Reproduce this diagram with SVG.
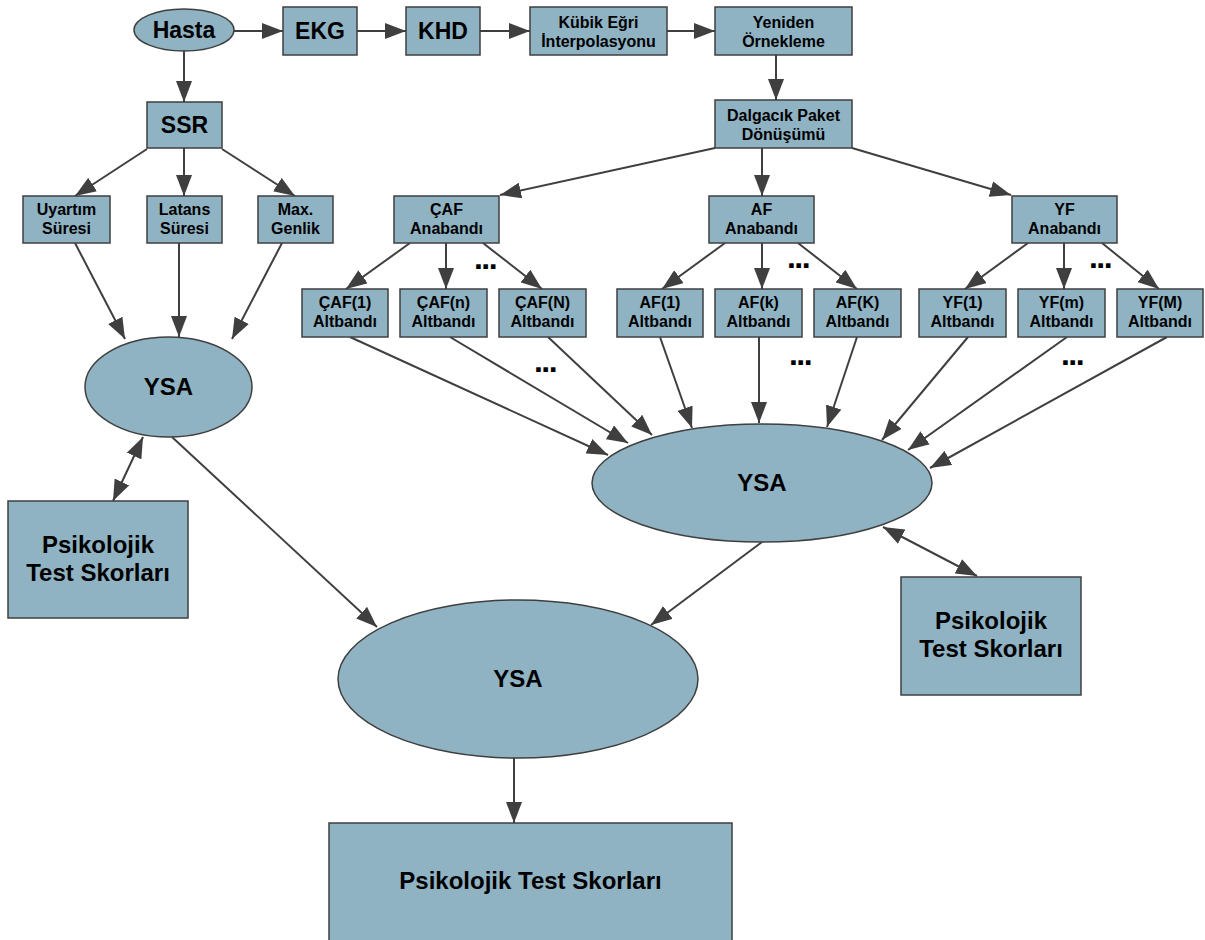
<svg xmlns="http://www.w3.org/2000/svg" width="1205" height="940" viewBox="0 0 1205 940">
<style>
.n{fill:#8fb3c3;stroke:#3f3f3f;stroke-width:1.5}
.t{font-family:"Liberation Sans",Arial,sans-serif;font-weight:bold;fill:#000;text-anchor:middle}
.s16{font-size:16px}
.s23{font-size:23px}
.s24{font-size:24px}
.c{stroke:#3f3f3f;stroke-width:2;fill:none;marker-end:url(#ah)}
.b{marker-start:url(#ah)}
.d{font-family:"Liberation Sans",Arial,sans-serif;font-weight:bold;font-size:32px;letter-spacing:-1.5px;text-anchor:middle}
</style>
<defs>
<marker id="ah" markerUnits="userSpaceOnUse" markerWidth="21" markerHeight="16" refX="21" refY="8" orient="auto-start-reverse">
<path d="M0,0 L21,8 L0,16 z" fill="#3f3f3f"/>
</marker>
</defs>
<rect width="1205" height="940" fill="#fff"/>
<g id="connectors">
<line class="c" x1="234" y1="31" x2="283" y2="31"/>
<line class="c" x1="357" y1="31" x2="406" y2="31"/>
<line class="c" x1="480" y1="31" x2="530" y2="31"/>
<line class="c" x1="667" y1="31" x2="715" y2="31"/>
<line class="c" x1="776" y1="55" x2="776" y2="100"/>
<line class="c" x1="184" y1="51" x2="184" y2="102"/>
<line class="c" x1="147" y1="149" x2="75" y2="196"/>
<line class="c" x1="184" y1="148" x2="184" y2="196"/>
<line class="c" x1="222" y1="149" x2="295" y2="196"/>
<line class="c" x1="75" y1="243" x2="125" y2="339"/>
<line class="c" x1="179" y1="243" x2="179" y2="337"/>
<line class="c" x1="282" y1="243" x2="232" y2="339"/>
<line class="c b" x1="113" y1="501" x2="143" y2="437"/>
<line class="c" x1="172" y1="437" x2="377" y2="627"/>
<line class="c" x1="715" y1="148" x2="500" y2="195"/>
<line class="c" x1="762" y1="148" x2="762" y2="196"/>
<line class="c" x1="852" y1="148" x2="1011" y2="195"/>
<line class="c" x1="410" y1="243" x2="346" y2="289"/>
<line class="c" x1="446" y1="243" x2="446" y2="289"/>
<line class="c" x1="483" y1="243" x2="542" y2="289"/>
<line class="c" x1="725" y1="243" x2="662" y2="289"/>
<line class="c" x1="762" y1="243" x2="762" y2="289"/>
<line class="c" x1="798" y1="243" x2="857" y2="289"/>
<line class="c" x1="1028" y1="243" x2="965" y2="289"/>
<line class="c" x1="1064" y1="243" x2="1064" y2="289"/>
<line class="c" x1="1102" y1="243" x2="1159" y2="289"/>
<line class="c" x1="350" y1="337" x2="608" y2="455"/>
<line class="c" x1="450" y1="337" x2="628" y2="443"/>
<line class="c" x1="548" y1="337" x2="652" y2="435"/>
<line class="c" x1="660" y1="337" x2="692" y2="428"/>
<line class="c" x1="759" y1="337" x2="759" y2="423"/>
<line class="c" x1="857" y1="337" x2="827" y2="427"/>
<line class="c" x1="968" y1="337" x2="882" y2="440"/>
<line class="c" x1="1067" y1="337" x2="908" y2="450"/>
<line class="c" x1="1167" y1="337" x2="930" y2="468"/>
<line class="c" x1="762" y1="542" x2="651" y2="625"/>
<line class="c b" x1="883" y1="527" x2="977" y2="576"/>
<line class="c" x1="514" y1="758" x2="514" y2="823"/>
</g>
<g id="hasta"><ellipse class="n" cx="184" cy="30" rx="50" ry="21"/><text class="t s23" x="184" y="38">Hasta</text></g>
<g id="ekg"><rect class="n" x="283" y="7" width="74" height="48"/><text class="t s23" x="320" y="39">EKG</text></g>
<g id="khd"><rect class="n" x="406" y="7" width="74" height="48"/><text class="t s23" x="443" y="39">KHD</text></g>
<g id="kubik"><rect class="n" x="530" y="7" width="137" height="48"/><text class="t s16" x="598.5" y="28">Kübik Eğri</text><text class="t s16" x="598.5" y="47">İnterpolasyonu</text></g>
<g id="yeniden"><rect class="n" x="715" y="7" width="137" height="48"/><text class="t s16" x="783.5" y="28">Yeniden</text><text class="t s16" x="783.5" y="47">Örnekleme</text></g>
<g id="dalgacik"><rect class="n" x="715" y="100" width="137" height="48"/><text class="t s16" x="783.5" y="121">Dalgacık Paket</text><text class="t s16" x="783.5" y="140">Dönüşümü</text></g>
<g id="ssr"><rect class="n" x="147" y="102" width="75" height="46"/><text class="t s23" x="184.5" y="133">SSR</text></g>
<g id="uyartim"><rect class="n" x="23" y="196" width="87" height="47"/><text class="t s16" x="66.5" y="215">Uyartım</text><text class="t s16" x="66.5" y="234">Süresi</text></g>
<g id="latans"><rect class="n" x="147" y="196" width="75" height="47"/><text class="t s16" x="184.5" y="215">Latans</text><text class="t s16" x="184.5" y="234">Süresi</text></g>
<g id="maxgenlik"><rect class="n" x="258" y="196" width="75" height="47"/><text class="t s16" x="295.5" y="215">Max.</text><text class="t s16" x="295.5" y="234">Genlik</text></g>
<g id="caf-ana"><rect class="n" x="394" y="196" width="105" height="47"/><text class="t s16" x="446.5" y="215">ÇAF</text><text class="t s16" x="446.5" y="234">Anabandı</text></g>
<g id="af-ana"><rect class="n" x="709" y="196" width="105" height="47"/><text class="t s16" x="761.5" y="215">AF</text><text class="t s16" x="761.5" y="234">Anabandı</text></g>
<g id="yf-ana"><rect class="n" x="1012" y="196" width="105" height="47"/><text class="t s16" x="1064.5" y="215">YF</text><text class="t s16" x="1064.5" y="234">Anabandı</text></g>
<g id="caf1"><rect class="n" x="302" y="289" width="86" height="48"/><text class="t s16" x="345" y="308">ÇAF(1)</text><text class="t s16" x="345" y="327">Altbandı</text></g>
<g id="cafn"><rect class="n" x="400" y="289" width="87" height="48"/><text class="t s16" x="443.5" y="308">ÇAF(n)</text><text class="t s16" x="443.5" y="327">Altbandı</text></g>
<g id="cafN"><rect class="n" x="499" y="289" width="87" height="48"/><text class="t s16" x="542.5" y="308">ÇAF(N)</text><text class="t s16" x="542.5" y="327">Altbandı</text></g>
<g id="af1"><rect class="n" x="617" y="289" width="86" height="48"/><text class="t s16" x="660" y="308">AF(1)</text><text class="t s16" x="660" y="327">Altbandı</text></g>
<g id="afk"><rect class="n" x="715" y="289" width="87" height="48"/><text class="t s16" x="758.5" y="308">AF(k)</text><text class="t s16" x="758.5" y="327">Altbandı</text></g>
<g id="afK"><rect class="n" x="814" y="289" width="87" height="48"/><text class="t s16" x="857.5" y="308">AF(K)</text><text class="t s16" x="857.5" y="327">Altbandı</text></g>
<g id="yf1"><rect class="n" x="919" y="289" width="87" height="48"/><text class="t s16" x="962.5" y="308">YF(1)</text><text class="t s16" x="962.5" y="327">Altbandı</text></g>
<g id="yfm"><rect class="n" x="1018" y="289" width="87" height="48"/><text class="t s16" x="1061.5" y="308">YF(m)</text><text class="t s16" x="1061.5" y="327">Altbandı</text></g>
<g id="yfM"><rect class="n" x="1117" y="289" width="86" height="48"/><text class="t s16" x="1160" y="308">YF(M)</text><text class="t s16" x="1160" y="327">Altbandı</text></g>
<g id="ysa-left"><ellipse class="n" cx="168.5" cy="387" rx="83.5" ry="50"/><text class="t s24" x="168.5" y="395">YSA</text></g>
<g id="ysa-right"><ellipse class="n" cx="762" cy="483" rx="170" ry="59"/><text class="t s24" x="762" y="491">YSA</text></g>
<g id="ysa-bottom"><ellipse class="n" cx="518" cy="679" rx="180" ry="79"/><text class="t s24" x="518" y="687">YSA</text></g>
<g id="psik-left"><rect class="n" x="8" y="501" width="180" height="117"/><text class="t s24" x="98" y="553">Psikolojik</text><text class="t s24" x="98" y="581">Test Skorları</text></g>
<g id="psik-right"><rect class="n" x="901" y="577" width="180" height="118"/><text class="t s24" x="991" y="629">Psikolojik</text><text class="t s24" x="991" y="657">Test Skorları</text></g>
<g id="psik-bottom"><rect class="n" x="329" y="823" width="403" height="130"/><text class="t s24" x="530.5" y="889">Psikolojik Test Skorları</text></g>
<g id="dots">
<text class="d" x="485" y="269">...</text>
<text class="d" x="545" y="372">...</text>
<text class="d" x="798" y="268">...</text>
<text class="d" x="800" y="365">...</text>
<text class="d" x="1100" y="268">...</text>
<text class="d" x="1072" y="365">...</text>
</g>
</svg>
